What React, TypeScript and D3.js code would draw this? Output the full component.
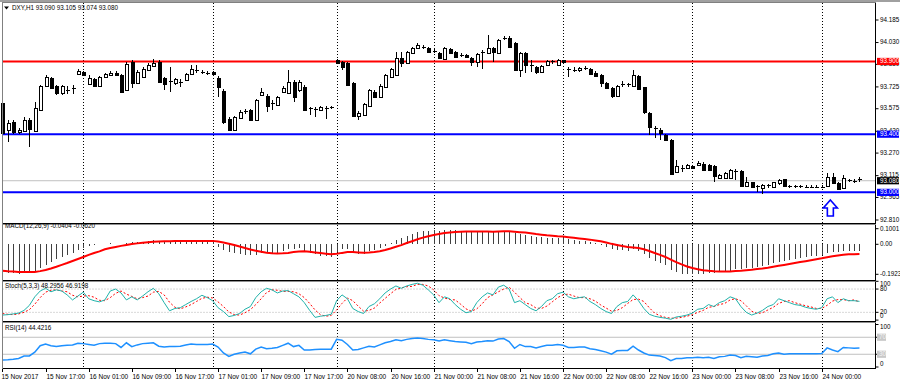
import React from 'react';
import * as d3 from 'd3';

const W = 900;
const H = 383;

const open = [
  93.614, 93.429, 93.484, 93.415, 93.422, 93.498, 93.422, 93.566, 93.731, 93.786,
  93.731, 93.683, 93.704, 93.711, 93.814, 93.828, 93.745, 93.779, 93.731, 93.793,
  93.807, 93.821, 93.807, 93.704, 93.896, 93.752, 93.793, 93.841, 93.869, 93.896,
  93.786, 93.759, 93.752, 93.759, 93.773, 93.814, 93.841, 93.828, 93.821, 93.828,
  93.786, 93.697, 93.504, 93.429, 93.511, 93.553, 93.566, 93.498, 93.669, 93.663,
  93.614, 93.601, 93.690, 93.683, 93.759, 93.704, 93.724, 93.573, 93.573, 93.566,
  93.580, 93.587, 93.910, 93.896, 93.889, 93.752, 93.525, 93.532, 93.594, 93.690,
  93.656, 93.724, 93.793, 93.807, 93.924, 93.889, 93.958, 93.993, 94.000, 93.993,
  93.975, 93.958, 93.917, 93.986, 93.965, 93.944, 93.944, 93.924, 93.896, 93.958,
  93.958, 93.993, 93.958, 94.058, 94.061, 94.027, 93.841, 93.958, 93.876, 93.862,
  93.828, 93.876, 93.896, 93.876, 93.910, 93.848, 93.841, 93.838, 93.852, 93.848,
  93.824, 93.807, 93.752, 93.718, 93.659, 93.738, 93.738, 93.728, 93.800, 93.721,
  93.546, 93.443, 93.432, 93.394, 93.357, 93.137, 93.164, 93.164, 93.181, 93.188,
  93.195, 93.188, 93.178, 93.096, 93.096, 93.102, 93.144, 93.144, 93.041, 93.068,
  93.041, 93.027, 93.044, 93.034, 93.058, 93.089, 93.041, 93.041, 93.039, 93.039,
  93.039, 93.037, 93.035, 93.039, 93.104, 93.067, 93.028, 93.080, 93.074, 93.090,
];
const high = [
  93.635, 93.498, 93.498, 93.443, 93.518, 93.511, 93.621, 93.738, 93.807, 93.793,
  93.738, 93.738, 93.731, 93.738, 93.848, 93.834, 93.807, 93.786, 93.800, 93.821,
  93.834, 93.834, 93.814, 93.896, 93.910, 93.841, 93.862, 93.889, 93.917, 93.910,
  93.793, 93.862, 93.786, 93.779, 93.821, 93.876, 93.876, 93.841, 93.834, 93.834,
  93.800, 93.711, 93.518, 93.525, 93.566, 93.573, 93.573, 93.642, 93.718, 93.676,
  93.635, 93.663, 93.731, 93.841, 93.773, 93.773, 93.738, 93.587, 93.587, 93.594,
  93.594, 93.594, 93.917, 93.903, 93.896, 93.759, 93.559, 93.614, 93.711, 93.704,
  93.745, 93.814, 93.855, 93.965, 93.965, 93.972, 94.000, 94.027, 94.013, 94.000,
  93.986, 93.965, 94.000, 93.993, 93.972, 93.958, 93.951, 93.931, 93.958, 93.979,
  94.082, 94.000, 94.054, 94.072, 94.072, 94.034, 93.965, 93.965, 93.910, 93.869,
  93.876, 93.910, 93.910, 93.917, 93.913, 93.862, 93.862, 93.862, 93.869, 93.855,
  93.834, 93.814, 93.759, 93.724, 93.738, 93.766, 93.752, 93.841, 93.807, 93.724,
  93.553, 93.456, 93.443, 93.401, 93.367, 93.223, 93.188, 93.195, 93.188, 93.216,
  93.209, 93.195, 93.188, 93.126, 93.140, 93.161, 93.161, 93.154, 93.106, 93.071,
  93.051, 93.058, 93.058, 93.071, 93.089, 93.092, 93.051, 93.051, 93.048, 93.051,
  93.048, 93.048, 93.048, 93.131, 93.131, 93.071, 93.120, 93.092, 93.092, 93.105,
];
const low = [
  93.388, 93.346, 93.401, 93.401, 93.415, 93.312, 93.415, 93.559, 93.724, 93.711,
  93.669, 93.669, 93.676, 93.676, 93.807, 93.800, 93.738, 93.724, 93.724, 93.786,
  93.800, 93.800, 93.683, 93.697, 93.718, 93.745, 93.786, 93.834, 93.862, 93.752,
  93.704, 93.690, 93.738, 93.724, 93.766, 93.807, 93.821, 93.814, 93.807, 93.814,
  93.656, 93.470, 93.422, 93.422, 93.504, 93.539, 93.491, 93.491, 93.663, 93.553,
  93.566, 93.594, 93.683, 93.676, 93.621, 93.690, 93.559, 93.532, 93.518, 93.559,
  93.504, 93.573, 93.883, 93.841, 93.731, 93.518, 93.498, 93.525, 93.587, 93.649,
  93.649, 93.718, 93.786, 93.800, 93.862, 93.883, 93.951, 93.986, 93.986, 93.958,
  93.958, 93.917, 93.910, 93.951, 93.924, 93.931, 93.924, 93.869, 93.862, 93.848,
  93.951, 93.896, 93.951, 94.048, 93.993, 93.834, 93.793, 93.821, 93.828, 93.814,
  93.821, 93.869, 93.883, 93.869, 93.889, 93.793, 93.828, 93.828, 93.841, 93.807,
  93.793, 93.724, 93.711, 93.649, 93.656, 93.724, 93.724, 93.724, 93.704, 93.539,
  93.394, 93.374, 93.360, 93.353, 93.120, 93.134, 93.140, 93.161, 93.161, 93.181,
  93.147, 93.147, 93.068, 93.092, 93.092, 93.099, 93.085, 93.037, 93.037, 93.030,
  93.003, 92.992, 93.030, 93.030, 93.051, 93.037, 93.030, 93.030, 93.030, 93.030,
  93.030, 93.027, 93.027, 93.037, 93.058, 93.023, 93.023, 93.071, 93.065, 93.074,
];
const close = [
  93.408, 93.477, 93.415, 93.429, 93.498, 93.436, 93.580, 93.731, 93.793, 93.718,
  93.683, 93.731, 93.707, 93.718, 93.834, 93.807, 93.786, 93.731, 93.793, 93.814,
  93.821, 93.807, 93.690, 93.883, 93.752, 93.828, 93.848, 93.876, 93.889, 93.759,
  93.745, 93.766, 93.779, 93.762, 93.814, 93.848, 93.831, 93.826, 93.824, 93.817,
  93.724, 93.484, 93.429, 93.518, 93.553, 93.559, 93.498, 93.635, 93.690, 93.594,
  93.611, 93.656, 93.718, 93.759, 93.656, 93.759, 93.566, 93.577, 93.570, 93.587,
  93.577, 93.580, 93.889, 93.865, 93.738, 93.525, 93.546, 93.608, 93.704, 93.656,
  93.731, 93.807, 93.848, 93.924, 93.889, 93.965, 93.993, 94.013, 93.997, 93.965,
  93.972, 93.924, 93.993, 93.958, 93.931, 93.941, 93.931, 93.896, 93.951, 93.965,
  93.993, 93.965, 94.048, 94.061, 93.999, 93.841, 93.958, 93.876, 93.872, 93.828,
  93.869, 93.903, 93.900, 93.910, 93.893, 93.845, 93.838, 93.852, 93.855, 93.814,
  93.800, 93.752, 93.718, 93.663, 93.731, 93.742, 93.742, 93.807, 93.711, 93.546,
  93.453, 93.439, 93.408, 93.360, 93.126, 93.178, 93.168, 93.188, 93.168, 93.205,
  93.154, 93.154, 93.109, 93.120, 93.133, 93.154, 93.140, 93.041, 93.071, 93.034,
  93.039, 93.051, 93.048, 93.068, 93.082, 93.041, 93.039, 93.039, 93.041, 93.037,
  93.037, 93.035, 93.037, 93.104, 93.063, 93.028, 93.097, 93.082, 93.077, 93.080,
];

const macdMain = [
  -0.192, -0.186, -0.186, -0.19, -0.186, -0.182, -0.171, -0.154, -0.133, -0.111,
  -0.096, -0.083, -0.069, -0.054, -0.037, -0.026, -0.011, 0.0, 0.002, 0.004,
  0.006, 0.005, 0.004, 0.01, 0.012, 0.014, 0.018, 0.022, 0.026, 0.024,
  0.022, 0.022, 0.021, 0.02, 0.022, 0.024, 0.025, 0.025, 0.025, 0.024,
  -0.015, -0.036, -0.05, -0.058, -0.064, -0.069, -0.071, -0.069, -0.058, -0.058,
  -0.058, -0.054, -0.043, -0.032, -0.032, -0.021, -0.04, -0.055, -0.065, -0.072,
  -0.078, -0.082, -0.05, -0.03, -0.03, -0.05, -0.06, -0.06, -0.045, -0.038,
  -0.025, -0.008, 0.008, 0.028, 0.038, 0.052, 0.065, 0.077, 0.085, 0.088,
  0.09, 0.088, 0.092, 0.092, 0.09, 0.088, 0.085, 0.08, 0.08, 0.079,
  0.08, 0.079, 0.084, 0.088, 0.085, 0.07, 0.068, 0.062, 0.056, 0.048,
  0.045, 0.043, 0.042, 0.042, 0.04, 0.033, 0.027, 0.023, 0.02, 0.013,
  0.006, -0.005, -0.017, -0.032, -0.035, -0.037, -0.04, -0.033, -0.04, -0.062,
  -0.088, -0.105, -0.118, -0.132, -0.165, -0.18, -0.19, -0.192, -0.192, -0.19,
  -0.188, -0.185, -0.185, -0.18, -0.175, -0.168, -0.16, -0.16, -0.155, -0.15,
  -0.145, -0.138, -0.13, -0.122, -0.112, -0.108, -0.102, -0.096, -0.09, -0.084,
  -0.078, -0.072, -0.066, -0.056, -0.052, -0.05, -0.043, -0.041, -0.04, -0.0404,
];
const macdSignal = [
  -0.17, -0.173, -0.175, -0.177, -0.178, -0.178, -0.177, -0.172, -0.165, -0.155,
  -0.144, -0.132, -0.12, -0.107, -0.094, -0.081, -0.068, -0.056, -0.045, -0.032,
  -0.024, -0.017, -0.01, -0.004, 0.002, 0.006, 0.01, 0.013, 0.016, 0.018,
  0.019, 0.02, 0.021, 0.021, 0.021, 0.022, 0.022, 0.022, 0.022, 0.022,
  0.018, 0.012, 0.004, -0.005, -0.014, -0.024, -0.033, -0.041, -0.048, -0.054,
  -0.058, -0.059, -0.058, -0.055, -0.05, -0.046, -0.045, -0.048, -0.052, -0.056,
  -0.06, -0.064, -0.061, -0.055, -0.05, -0.05, -0.052, -0.054, -0.052, -0.049,
  -0.044, -0.037, -0.027, -0.016, -0.005, 0.008, 0.02, 0.032, 0.043, 0.052,
  0.06, 0.066, 0.072, 0.076, 0.079, 0.081, 0.082, 0.082, 0.082, 0.082,
  0.082, 0.081, 0.082, 0.083, 0.083, 0.081, 0.078, 0.075, 0.071, 0.066,
  0.062, 0.058, 0.055, 0.052, 0.05, 0.046, 0.042, 0.038, 0.034, 0.03,
  0.025, 0.019, 0.012, 0.003, -0.004, -0.011, -0.017, -0.02, -0.024, -0.032,
  -0.043, -0.056, -0.068, -0.081, -0.098, -0.114, -0.129, -0.142, -0.152, -0.16,
  -0.166, -0.17, -0.173, -0.175, -0.175, -0.174, -0.171, -0.169, -0.166, -0.163,
  -0.159, -0.155, -0.15, -0.144, -0.138, -0.132, -0.126, -0.12, -0.114, -0.108,
  -0.102, -0.096, -0.09, -0.083, -0.077, -0.072, -0.067, -0.064, -0.063, -0.062,
];

const stochMain = [
  13, 14, 16, 18, 25, 38, 60, 75, 82, 73,
  78, 75, 65, 52, 62, 72, 55, 50, 47, 52,
  75, 80, 70, 52, 60, 52, 62, 73, 82, 68,
  45, 24, 30, 32, 40, 48, 55, 64, 58, 50,
  32, 22, 9, 12, 17, 28, 35, 58, 73, 82,
  78, 70, 75, 76, 68, 60, 45, 25, 7, 10,
  12, 15, 50, 65, 55, 30, 22, 17, 35, 42,
  55, 70, 80, 88, 82, 88, 92, 95, 90, 78,
  65, 45, 60, 55, 40, 28, 19, 22, 45, 60,
  70, 65, 85, 90, 80, 45, 50, 40, 30, 24,
  35, 50, 55, 68, 72, 60, 55, 58, 60, 48,
  40, 30, 22, 17, 35, 45, 48, 65, 50, 30,
  15, 10, 7, 5, 2, 8, 10, 13, 18, 28,
  30, 40, 35, 45, 50, 60, 55, 35, 20, 13,
  18, 25, 35, 40, 55, 50, 45, 40, 38, 33,
  30, 28, 32, 55, 60, 45, 55, 50, 50, 48.3,
];
const stochSignal = [
  17, 15, 14, 16, 20, 27, 41, 58, 72, 77,
  78, 75, 73, 64, 60, 62, 63, 59, 51, 50,
  58, 69, 75, 67, 61, 55, 58, 62, 72, 74,
  65, 46, 33, 29, 34, 40, 48, 56, 59, 57,
  47, 35, 21, 14, 13, 19, 27, 40, 55, 71,
  78, 77, 74, 74, 73, 68, 58, 43, 26, 14,
  10, 12, 26, 43, 57, 50, 36, 23, 25, 31,
  44, 56, 68, 79, 83, 86, 87, 92, 92, 88,
  78, 63, 57, 53, 52, 41, 29, 23, 29, 42,
  58, 65, 73, 80, 85, 72, 58, 45, 40, 31,
  30, 36, 47, 58, 65, 67, 62, 58, 58, 55,
  49, 39, 31, 23, 25, 32, 43, 53, 54, 48,
  32, 18, 11, 7, 5, 5, 7, 10, 14, 20,
  25, 33, 35, 40, 43, 52, 55, 50, 37, 23,
  17, 19, 26, 33, 43, 48, 50, 45, 41, 37,
  34, 30, 30, 38, 49, 53, 53, 50, 52, 46.9,
];

const rsi = [
  16.5, 17, 18, 20, 26, 26, 35, 50, 54, 50,
  48, 50, 51, 52, 56, 55, 53, 51, 55, 56,
  56, 55, 46, 57, 48, 52, 55, 56, 57, 49,
  47, 48, 48, 49, 52, 54, 53, 53, 53, 54,
  47, 33, 25, 30, 33, 35, 31, 42, 47, 43,
  44, 46, 51, 56, 48, 51, 40, 40, 41, 42,
  42, 42, 65, 63, 53, 40, 41, 45, 49, 47,
  52, 57, 60, 64, 62, 65, 67, 68, 67, 65,
  64, 61, 64, 62, 60, 59, 58, 55, 59, 60,
  62, 61, 66, 67, 60, 44, 53, 48, 48, 45,
  48, 51, 51, 53, 51, 46, 46, 47, 47, 43,
  41, 38, 35, 30, 38, 39, 39, 49, 40, 33,
  28, 27, 26, 22, 15, 20, 20, 22, 22, 23,
  22, 23, 20, 24, 25, 28, 27, 22, 25, 24,
  23, 26, 27, 31, 33, 30, 31, 31, 31, 31,
  31, 31, 32, 45, 40, 36, 46, 45, 44, 44.4216,
];

const timeLabels = [
  '15 Nov 2017', '15 Nov 17:00', '16 Nov 01:00', '16 Nov 09:00', '16 Nov 17:00',
  '17 Nov 01:00', '17 Nov 09:00', '17 Nov 17:00', '20 Nov 08:00', '20 Nov 16:00',
  '21 Nov 00:00', '21 Nov 08:00', '21 Nov 16:00', '22 Nov 00:00', '22 Nov 08:00',
  '22 Nov 16:00', '23 Nov 00:00', '23 Nov 08:00', '23 Nov 16:00', '24 Nov 00:00',
];
const daySeparatorBars = [15, 39, 62, 80, 104, 128, 152];
const priceTicks = [94.185, 94.03, 93.88, 93.725, 93.575, 93.42, 93.27, 93.115, 92.965, 92.81];
const levelPrices = [93.9, 93.4, 93.0];
const levelColors = ['#FF0000', '#0000FF', '#0000FF'];
const bidPrice = 93.08;
const header = 'DXY,H1  93.090 93.105 93.074 93.080';
const macdLabel = 'MACD(12,26,9) -0.0404 -0.0620';
const stochLabel = 'Stoch(5,3,3) 48.2956 46.9198';
const rsiLabel = 'RSI(14) 44.4216';
const macdTicks = [0.1001, 0.0, -0.1923];
const macdTickText = ['0.1001', '0.00', '-0.1923'];
const stochTicks = [100, 80, 20, 0];
const rsiTicks = [100, 70, 30, 0];
const arrowBar = 153.6;
const arrowPrice = 92.948;

const FONT = '"Liberation Sans", Arial, sans-serif';

export default function App() {
  const n = close.length;
  const plotL = 2.5;
  const plotR = 875.5;
  const x = d3.scaleLinear().domain([0, n - 1]).range([2.45, 2.45 + 5.39 * (n - 1)]);
  const yP = d3.scaleLinear().domain([92.81, 94.185]).range([220, 20]);
  const yM = d3.scaleLinear().domain([-0.1923, 0.1001]).range([274.3, 228.7]);
  const yS = d3.scaleLinear().domain([0, 100]).range([320.1, 281.3]);
  const yR = d3.scaleLinear().domain([0, 100]).range([367, 324.5]);
  const px = (i: number) => Math.round(x(i));

  const sigLine = d3.line<number>().x((_, i) => x(i)).y((d) => yM(d));
  const stMain = d3.line<number>().x((_, i) => x(i)).y((d) => yS(d));
  const rsiLine = d3.line<number>().x((_, i) => x(i)).y((d) => yR(d));

  const ax = 880;
  const txt = { fontFamily: FONT, fontSize: 6.3, fill: '#000' } as const;

  const ah = x(arrowBar);
  const at = yP(arrowPrice);
  const arrowPath = `M${ah},${at} L${ah + 7},${at + 8} L${ah + 3},${at + 8} L${ah + 3},${at + 16} L${ah - 3},${at + 16} L${ah - 3},${at + 8} L${ah - 7},${at + 8} Z`;

  const separators = [223, 279.5, 321];

  return (
    <svg width={W} height={H} style={{ position: 'fixed', left: 0, top: 0, background: '#fff' }}>
      <rect x={0} y={0} width={W} height={H} fill="#fff" />
      <rect x={0} y={0} width={W} height={2} fill="#a0a0a0" />
      {/* day separators */}
      {daySeparatorBars.map((b) => (
        <line key={'ds' + b} x1={px(b) + 0.5} x2={px(b) + 0.5} y1={3} y2={368}
          stroke="#000" strokeWidth={1} strokeDasharray="1,2" />
      ))}
      {/* main panel levels */}
      <line x1={plotL} x2={plotR} y1={yP(bidPrice)} y2={yP(bidPrice)} stroke="#c0c0c0" strokeWidth={1} />
      {levelPrices.map((v, k) => (
        <line key={'lv' + k} x1={plotL} x2={plotR} y1={yP(v)} y2={yP(v)} stroke={levelColors[k]} strokeWidth={2} />
      ))}
      {/* candles */}
      <g shapeRendering="crispEdges">
        {close.map((c, i) => {
          const o = open[i];
          const cx = px(i);
          const top = yP(Math.max(o, c));
          const bot = yP(Math.min(o, c));
          const bull = c >= o;
          const h = Math.max(Math.round(bot - top), 1);
          return (
            <g key={'c' + i}>
              <line x1={cx + 0.5} x2={cx + 0.5} y1={yP(high[i])} y2={yP(low[i])} stroke="#000" strokeWidth={1} />
              {h <= 1 ? (
                <line x1={cx - 1.5} x2={cx + 2.5} y1={Math.round(top) + 0.5} y2={Math.round(top) + 0.5} stroke="#000" strokeWidth={1} />
              ) : (
                <rect x={cx - 1} y={Math.round(top) + 0.5} width={3} height={h} fill={bull ? '#fff' : '#000'} stroke="#000" strokeWidth={1} />
              )}
            </g>
          );
        })}
      </g>
      {/* arrow */}
      <path d={arrowPath} fill="#fff" stroke="#0000FF" strokeWidth={1.6} />
      {/* MACD */}
      <g shapeRendering="crispEdges">
        {macdMain.map((v, i) => (
          <line key={'m' + i} x1={px(i) + 0.5} x2={px(i) + 0.5} y1={yM(0)} y2={v === 0 ? yM(0) + 1 : yM(v)} stroke="#404040" strokeWidth={1} />
        ))}
      </g>
      <path d={sigLine(macdSignal) || ''} fill="none" stroke="#FF0000" strokeWidth={2} />
      {/* Stoch */}
      {[80, 20].map((v) => (
        <line key={'sl' + v} x1={plotL} x2={plotR} y1={yS(v)} y2={yS(v)} stroke="#b0b0b0" strokeWidth={1} strokeDasharray="1,2" />
      ))}
      <path d={stMain(stochSignal) || ''} fill="none" stroke="#FF0000" strokeWidth={1} strokeDasharray="2,2" />
      <path d={stMain(stochMain) || ''} fill="none" stroke="#20B2AA" strokeWidth={1} />
      {/* RSI */}
      {[70, 30].map((v) => (
        <line key={'rl' + v} x1={plotL} x2={plotR} y1={yR(v)} y2={yR(v)} stroke="#c0c0c0" strokeWidth={1} />
      ))}
      <path d={rsiLine(rsi) || ''} fill="none" stroke="#1E90FF" strokeWidth={1.5} />
      {/* frames */}
      <g shapeRendering="crispEdges">
        <line x1={plotL} x2={plotL} y1={2} y2={369} stroke="#808080" />
        <line x1={plotR} x2={plotR} y1={2} y2={369} stroke="#000" />
        <line x1={plotL} x2={plotR} y1={2.5} y2={2.5} stroke="#808080" />
        {separators.map((s) => (
          <g key={'sep' + s}>
            <line x1={plotL} x2={plotR} y1={s + 0.5} y2={s + 0.5} stroke="#000" />
            <line x1={plotL} x2={plotR} y1={s + 1.5} y2={s + 1.5} stroke="#909090" />
          </g>
        ))}
        <line x1={plotL} x2={plotR} y1={368.5} y2={368.5} stroke="#000" />
      </g>
      {/* header & indicator labels */}
      <path d="M4,6.5 L9,6.5 L6.5,9.5 Z" fill="#000" />
      <text x={12} y={8.5} dominantBaseline="middle" {...txt}>{header}</text>
      <text x={5} y={226.8} dominantBaseline="middle" {...txt}>{macdLabel}</text>
      <text x={5} y={286} dominantBaseline="middle" {...txt}>{stochLabel}</text>
      <text x={5} y={328.3} dominantBaseline="middle" {...txt}>{rsiLabel}</text>
      {/* price axis */}
      {priceTicks.map((v) => (
        <g key={'pt' + v}>
          <line x1={plotR} x2={plotR + 3} y1={yP(v)} y2={yP(v)} stroke="#000" />
          <text x={ax} y={yP(v)} dominantBaseline="middle" {...txt}>{v.toFixed(3)}</text>
        </g>
      ))}
      {levelPrices.map((v, k) => (
        <g key={'lb' + k}>
          <rect x={877} y={yP(v) - 3.6} width={22} height={7.2} fill={levelColors[k]} />
          <text x={ax} y={yP(v) + 0.2} dominantBaseline="middle" {...txt} fill="#fff">{v.toFixed(3)}</text>
        </g>
      ))}
      <rect x={877} y={yP(bidPrice) - 3.6} width={22} height={7.2} fill="#000" />
      <text x={ax} y={yP(bidPrice) + 0.2} dominantBaseline="middle" {...txt} fill="#fff">{bidPrice.toFixed(3)}</text>
      {/* MACD axis */}
      {macdTicks.map((v, k) => (
        <g key={'mt' + k}>
          <line x1={plotR} x2={plotR + 3} y1={yM(v)} y2={yM(v)} stroke="#000" />
          <text x={ax} y={yM(v) + (k === 0 ? 1 : 0)} dominantBaseline="middle" {...txt}>{macdTickText[k]}</text>
        </g>
      ))}
      {/* Stoch axis */}
      {stochTicks.map((v) => (
        <g key={'st' + v}>
          <line x1={plotR} x2={plotR + 3} y1={yS(v)} y2={yS(v)} stroke="#000" />
          <text x={ax} y={yS(v) + (v === 100 ? 3.5 : v === 0 ? -3.5 : 0)} dominantBaseline="middle" {...txt}>{v}</text>
        </g>
      ))}
      {/* RSI axis */}
      {rsiTicks.map((v) => (
        <g key={'rt' + v}>
          <line x1={plotR} x2={plotR + 3} y1={yR(v)} y2={yR(v)} stroke="#000" />
          {v === 70 || v === 30 ? (
            <g>
              <rect x={877} y={yR(v) - 3.6} width={9} height={7.2} fill="#c8c8c8" />
              <text x={ax - 1} y={yR(v) + 0.2} dominantBaseline="middle" {...txt} fill="#f4f4f4">{v}</text>
            </g>
          ) : (
            <text x={ax} y={yR(v) + (v === 100 ? 2.5 : -2.5)} dominantBaseline="middle" {...txt}>{v}</text>
          )}
        </g>
      ))}
      {/* time axis */}
      {timeLabels.map((t, k) => {
        const b = k * 8;
        const tx = px(b) + 0.5;
        return (
          <g key={'tl' + k}>
            <line x1={tx} x2={tx} y1={368.5} y2={372} stroke="#000" shapeRendering="crispEdges" />
            <text x={k === 0 ? 1.5 : tx} y={377.5} dominantBaseline="middle" {...txt} fontSize={6.5}>{t}</text>
          </g>
        );
      })}
    </svg>
  );
}
